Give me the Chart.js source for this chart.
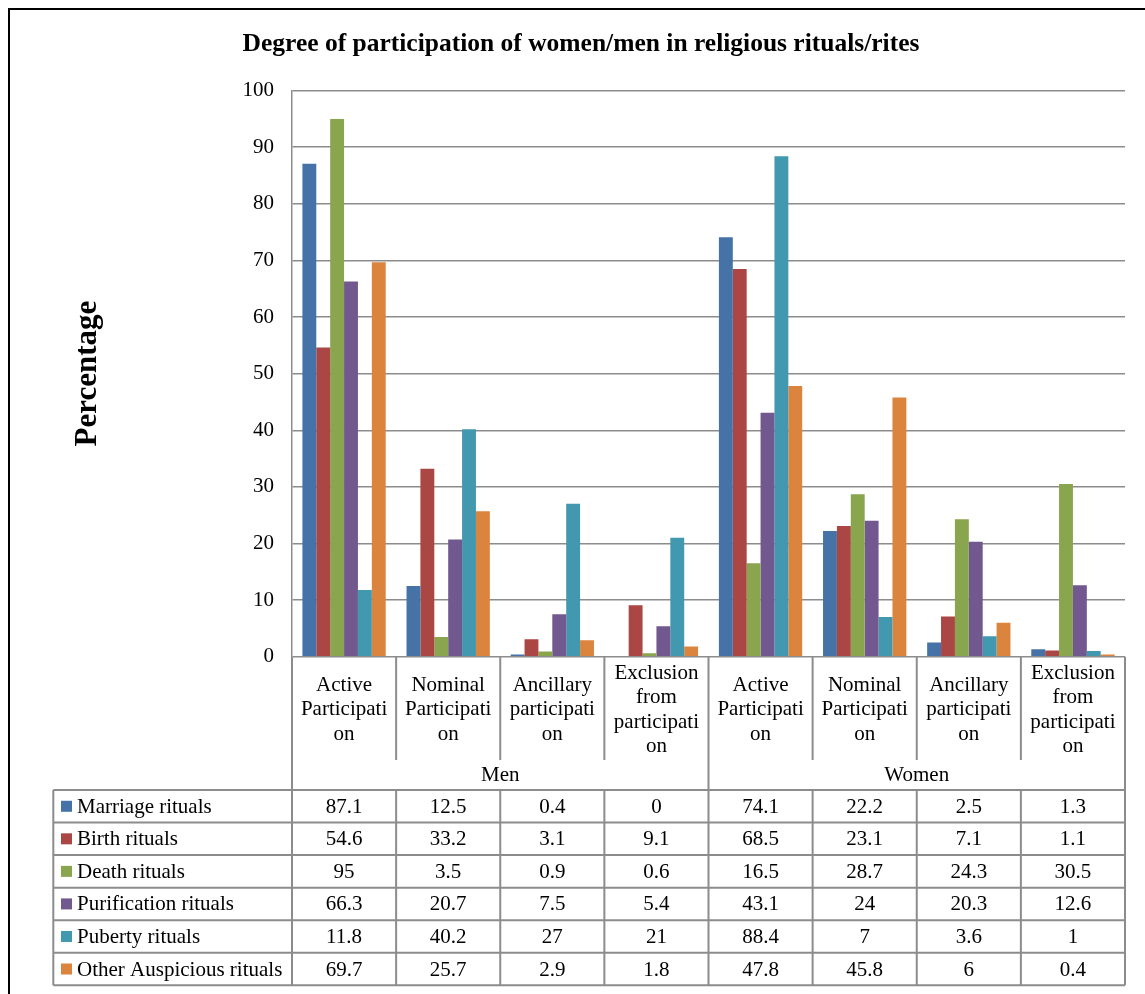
<!DOCTYPE html>
<html>
<head>
<meta charset="utf-8">
<title>Degree of participation of women/men in religious rituals/rites</title>
<script src="https://cdn.jsdelivr.net/npm/chart.js@4.4.1/dist/chart.umd.min.js"></script>
<style>
  html, body { margin: 0; padding: 0; background: #fff; overflow: hidden; }
  #wrap { position: relative; width: 1145px; height: 994px; }
  #frame { position: absolute; left: 7.5px; top: 7.5px; width: 2000px; height: 2000px;
           border-left: 2px solid #000; border-top: 2px solid #000; pointer-events: none; }
  canvas { position: absolute; left: 0; top: 0; }
</style>
</head>
<body>
<div id="wrap">
  <canvas id="chart" width="1145" height="994"></canvas>
  <div id="frame"></div>
</div>
<script>
// ---- data -------------------------------------------------------------
const chartTitle = 'Degree of participation of women/men in religious rituals/rites';
const yAxisTitle = 'Percentage';
const groups = ['Men', 'Women'];
const groupSize = 4;
// category labels, wrapped the way they appear under the axis
const categoryLines = [
  ['Active', 'Participati', 'on'],
  ['Nominal', 'Participati', 'on'],
  ['Ancillary', 'participati', 'on'],
  ['Exclusion', 'from', 'participati', 'on'],
  ['Active', 'Participati', 'on'],
  ['Nominal', 'Participati', 'on'],
  ['Ancillary', 'participati', 'on'],
  ['Exclusion', 'from', 'participati', 'on']
];
const seriesNames = ['Marriage rituals', 'Birth rituals', 'Death rituals',
                     'Purification rituals', 'Puberty rituals', 'Other Auspicious rituals'];
const marriage     = [87.1, 12.5, 0.4, 0,    74.1, 22.2, 2.5,  1.3];
const birth        = [54.6, 33.2, 3.1, 9.1,  68.5, 23.1, 7.1,  1.1];
const death        = [95,   3.5,  0.9, 0.6,  16.5, 28.7, 24.3, 30.5];
const purification = [66.3, 20.7, 7.5, 5.4,  43.1, 24,   20.3, 12.6];
const puberty      = [11.8, 40.2, 27,  21,   88.4, 7,    3.6,  1];
const otherAusp    = [69.7, 25.7, 2.9, 1.8,  47.8, 45.8, 6,    0.4];
const seriesValues = [marriage, birth, death, purification, puberty, otherAusp];
const yTicks = { min: 0, max: 100, step: 10 };

// ---- styles -----------------------------------------------------------
const colors = ['#4572A7', '#AA4643', '#89A54E', '#71588F', '#4198AF', '#DB843D'];
const serif = '"Liberation Serif", "Times New Roman", serif';
const lineColor = '#8c8c8c';
const textSize = 21;
const textLineHeight = 24.3;
const labelBand = 103.3;   // height of the category-name band under the axis
const groupBand = 30;      // height of the Men / Women band
const rowHeight = 32.55;   // data table row height
const tableLeft = 53.3;    // left edge of the legend column

Chart.defaults.font.family = serif;
Chart.defaults.color = '#000';

// Draws the category names, the group names and the data table with
// legend keys underneath the plot, aligned on the x scale.
const dataTablePlugin = {
  id: 'dataTable',
  afterDraw(chart) {
    const ctx = chart.ctx;
    const xs = chart.scales.x;
    const area = chart.chartArea;
    const n = categoryLines.length;
    const centers = categoryLines.map((_, i) => xs.getPixelForValue(i));
    const edges = [area.left];
    for (let i = 0; i < n - 1; i++) edges.push((centers[i] + centers[i + 1]) / 2);
    edges.push(area.right);

    const axisY = area.bottom;
    const labelBottom = axisY + labelBand;
    const tableTop = labelBottom + groupBand;
    const tableBottom = tableTop + rowHeight * seriesNames.length;

    ctx.save();
    ctx.strokeStyle = lineColor;
    ctx.lineWidth = 2;
    const line = (x1, y1, x2, y2) => {
      ctx.beginPath(); ctx.moveTo(x1, y1); ctx.lineTo(x2, y2); ctx.stroke();
    };

    // separators between categories in the label band
    for (let i = 0; i <= n; i++) {
      const groupEdge = (i % groupSize === 0);
      line(edges[i], axisY, edges[i], groupEdge ? tableBottom : labelBottom);
    }
    // table horizontal lines
    for (let r = 0; r <= seriesNames.length; r++) {
      const y = tableTop + r * rowHeight;
      line(tableLeft, y, area.right, y);
    }
    line(tableLeft, tableTop, tableLeft, tableBottom);
    // column separators inside the table
    for (let i = 1; i < n; i++) {
      if (i % groupSize !== 0) line(edges[i], tableTop, edges[i], tableBottom);
    }

    ctx.fillStyle = '#000';
    ctx.font = textSize + 'px ' + serif;
    ctx.textAlign = 'center';
    ctx.textBaseline = 'middle';

    // category names
    const bandMid = axisY + labelBand / 2 + 1.5;
    categoryLines.forEach((lines, i) => {
      const y0 = bandMid - (lines.length - 1) * textLineHeight / 2;
      lines.forEach((t, k) => ctx.fillText(t, centers[i], y0 + k * textLineHeight));
    });
    // group names
    groups.forEach((g, gi) => {
      const x = (edges[gi * groupSize] + edges[(gi + 1) * groupSize]) / 2;
      ctx.fillText(g, x, labelBottom + groupBand / 2);
    });
    // table rows
    seriesNames.forEach((name, r) => {
      const yMid = tableTop + r * rowHeight + rowHeight / 2;
      ctx.fillStyle = colors[r];
      ctx.fillRect(tableLeft + 7.7, yMid - 5.5, 11, 11);
      ctx.fillStyle = '#000';
      ctx.textAlign = 'left';
      ctx.fillText(name, tableLeft + 23.7, yMid + 1);
      ctx.textAlign = 'center';
      seriesValues[r].forEach((v, i) => ctx.fillText(String(v), centers[i], yMid + 1));
    });
    ctx.restore();
  }
};

new Chart(document.getElementById('chart'), {
  type: 'bar',
  data: {
    labels: categoryLines,
    datasets: seriesNames.map((name, i) => ({
      label: name,
      data: seriesValues[i],
      backgroundColor: colors[i],
      borderWidth: 0,
      categoryPercentage: 0.8,
      barPercentage: 1.0
    }))
  },
  options: {
    responsive: false,
    animation: false,
    devicePixelRatio: 1,
    layout: { padding: { top: 0, left: 37, right: 20, bottom: 337.3 } },
    plugins: {
      legend: { display: false },
      tooltip: { enabled: true },
      title: {
        display: true,
        text: chartTitle,
        color: '#000',
        font: { family: serif, size: 25.5, weight: 'bold' },
        padding: { top: 29, bottom: 31 }
      }
    },
    scales: {
      x: { display: false },
      y: {
        min: yTicks.min,
        max: yTicks.max,
        ticks: { stepSize: yTicks.step, padding: 18, color: '#000',
                 font: { family: serif, size: textSize } },
        grid: { color: lineColor, lineWidth: 1.5, drawTicks: false },
        border: { display: true, color: lineColor, width: 1.5 },
        title: {
          display: true,
          text: yAxisTitle,
          color: '#000',
          font: { family: serif, size: 31, weight: 'bold' },
          padding: { top: 32, bottom: 0 }
        },
        afterFit(scale) { scale.width = 255; }
      }
    }
  },
  plugins: [dataTablePlugin]
});
</script>
</body>
</html>
